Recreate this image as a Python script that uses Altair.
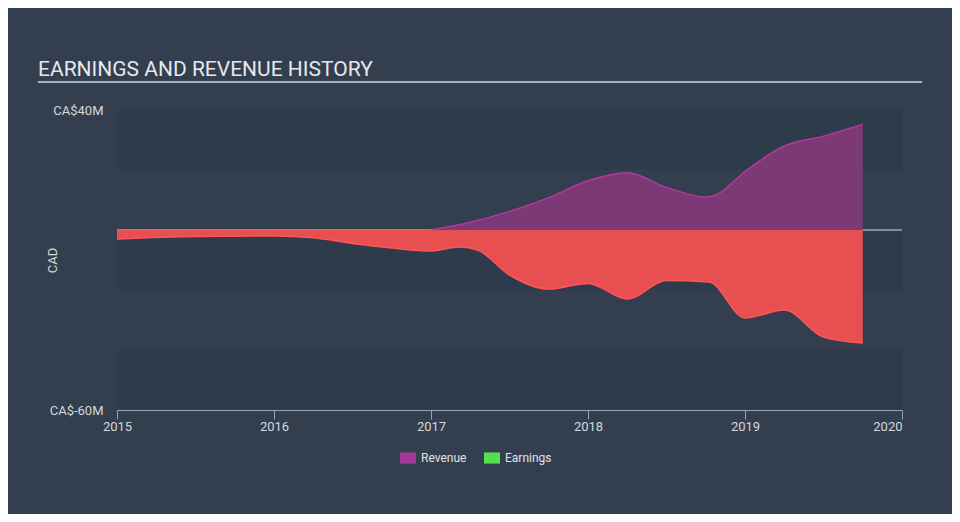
import altair as alt
import pandas as pd

TITLE = "EARNINGS AND REVENUE HISTORY"
series_names = ["Revenue", "Earnings"]
legend_colors = ["#a23b97", "#50e150"]

rev_year = [2017.0, 2017.25, 2017.5, 2017.75, 2018.0, 2018.25, 2018.5,
            2018.75, 2018.82, 2019.0, 2019.25, 2019.5, 2019.75]
rev_val = [0.0, 2.6, 6.2, 10.8, 16.4, 19.1, 14.2, 11.0, 11.8, 19.5, 28.0, 31.3, 35.3]

earn_year = [2015.0, 2015.5, 2016.0, 2016.25, 2016.5, 2016.75, 2017.0, 2017.18, 2017.3,
             2017.5, 2017.75, 2018.0, 2018.25, 2018.5, 2018.77, 2019.0, 2019.25, 2019.5, 2019.75]
earn_val = [-3.0, -2.2, -2.0, -2.6, -4.5, -6.0, -7.0, -5.7, -6.8,
            -15.0, -19.7, -17.8, -23.0, -16.8, -17.3, -29.3, -26.7, -35.7, -37.7]

band_top = [40, 0, -40]
band_bottom = [20, -20, -60]

year_ticks = [2015, 2016, 2017, 2018, 2019, 2020]
y_ticks = [-60, 40]

W, H = 785, 300

rev_df = pd.DataFrame({"year": rev_year, "value": rev_val})
earn_df = pd.DataFrame({"year": earn_year, "value": earn_val})
band_df = pd.DataFrame({"top": band_top, "bottom": band_bottom})
zero_df = pd.DataFrame({"v": [0]})
title_df = pd.DataFrame({"t": [TITLE]})
legend_df = pd.DataFrame({"series": series_names, "year": [2015, 2015], "value": [0, 0]})

FONT = "Roboto"
LBL = "#d4d8dc"

x_scale = alt.Scale(domain=[2015, 2020], nice=False, zero=False)
y_scale = alt.Scale(domain=[-60, 40], nice=False, zero=False)

x_axis = alt.Axis(
    values=year_ticks, format="d", title=None, grid=False,
    domainColor="#9aa4ae", tickColor="#9aa4ae", tickSize=9,
    labelColor=LBL, labelFont=FONT, labelFontSize=13, labelPadding=1,
    labelFlush=False, labelOverlap=False,
    labelAlign={"condition": {"test": "datum.value == 2020", "value": "right"}, "value": "center"},
)
y_axis = alt.Axis(
    values=y_ticks, labelExpr="'CA$' + datum.value + 'M'", title="CAD",
    domain=False, ticks=False, grid=False,
    labelColor=LBL, labelFont=FONT, labelFontSize=13, labelPadding=14, labelOverlap=False,
    titleColor=LBL, titleFont=FONT, titleFontSize=13, titleFontWeight="normal",
    titleX=-65, titleY=150, titleAngle=270, titleBaseline="middle", titleAlign="center",
)

bands = alt.Chart(band_df).mark_rect(color="#2e3b4b").encode(
    y=alt.Y("top:Q", scale=y_scale, axis=y_axis),
    y2="bottom:Q",
    x=alt.value(0), x2=alt.value(W),
)

zero_rule = alt.Chart(zero_df).mark_rule(color="#d5d8dc", strokeWidth=1).encode(
    y=alt.Y("v:Q", scale=y_scale, axis=y_axis),
    x=alt.value(0), x2=alt.value(W),
)

rev_area = alt.Chart(rev_df).mark_area(
    color="#7b3a76", opacity=1, interpolate="monotone",
    line={"color": "#b4389f", "strokeWidth": 1.5},
).encode(
    x=alt.X("year:Q", scale=x_scale, axis=x_axis),
    y=alt.Y("value:Q", scale=y_scale, axis=y_axis),
    y2=alt.datum(0),
)

earn_area = alt.Chart(earn_df).mark_area(
    color="#e84f51", opacity=1, interpolate="monotone",
    line={"color": "#ff5458", "strokeWidth": 1.5},
).encode(
    x=alt.X("year:Q", scale=x_scale, axis=x_axis),
    y=alt.Y("value:Q", scale=y_scale, axis=y_axis),
    y2=alt.datum(0),
)

underline = alt.Chart(zero_df).mark_rule(color="#aab1b8", strokeWidth=2).encode(
    x=alt.value(-79), x2=alt.value(805), y=alt.value(-28),
)

title = alt.Chart(title_df).mark_text(
    align="left", baseline="alphabetic", font=FONT, fontSize=21, color="#e6e8eb",
).encode(x=alt.value(-79), y=alt.value(-34), text="t:N")

legend_layer = alt.Chart(legend_df).mark_square(opacity=0).encode(
    x=alt.X("year:Q", scale=x_scale, axis=x_axis),
    y=alt.Y("value:Q", scale=y_scale, axis=y_axis),
    color=alt.Color(
        "series:N",
        scale=alt.Scale(domain=series_names, range=legend_colors),
        legend=alt.Legend(
            title=None, orient="none", legendX=283, legendY=340, direction="horizontal",
            symbolType="M-1,-0.7H1V0.7H-1Z", symbolSize=256, symbolStrokeWidth=0,
            symbolOpacity=1, labelFont=FONT, labelFontSize=12, labelColor="#e0e3e6",
            labelOffset=5, columnPadding=17, padding=0,
        ),
    ),
)

chart = alt.layer(
    bands, zero_rule, rev_area, earn_area, underline, title, legend_layer
).properties(
    width=W, height=H,
    autosize=alt.AutoSizeParams(type="none"),
    padding={"left": 109, "top": 102, "right": 50, "bottom": 104},
    background="#333f4f",
).configure_view(stroke=None)

chart.save("out.html", embed_options={"renderer": "svg", "actions": False})
